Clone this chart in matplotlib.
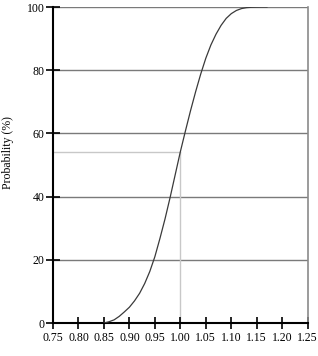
import matplotlib
matplotlib.use("Agg")
import matplotlib.pyplot as plt

# Curve (x, cumulative probability %)
x_vals = [0.85, 0.86, 0.87, 0.88, 0.89, 0.90, 0.91, 0.92, 0.93, 0.94, 0.95,
          0.96, 0.97, 0.98, 0.99, 1.00, 1.01, 1.02, 1.03, 1.04, 1.05, 1.06,
          1.07, 1.08, 1.09, 1.10, 1.11, 1.12, 1.13, 1.14, 1.15, 1.16, 1.17]
prob_vals = [0.0, 0.4, 1.0, 2.1, 3.5, 5.0, 7.0, 9.4, 12.5, 16.3, 21.0,
             26.8, 33.0, 39.8, 47.0, 54.2, 60.8, 67.2, 73.2, 78.8, 83.8, 88.0,
             91.4, 94.2, 96.4, 97.9, 98.9, 99.5, 99.8, 99.92, 99.97, 100.0, 100.0]

ref_x = 1.00
ref_y = 54.2

x_ticks = [0.75, 0.80, 0.85, 0.90, 0.95, 1.00, 1.05, 1.10, 1.15, 1.20, 1.25]
y_ticks = [0, 20, 40, 60, 80, 100]

plt.rcParams['font.family'] = ['Liberation Serif', 'DejaVu Serif']

fig = plt.figure(figsize=(3.18, 3.56), dpi=100)
ax = fig.add_axes([53/318, 1 - 323/356, (307.7-53)/318, (323-7)/356])

for yt in y_ticks[1:]:
    ax.axhline(yt, color='#7a7a7a', lw=1.0, zorder=1)

ax.plot([x_ticks[0], ref_x], [ref_y, ref_y], color='#c8c8c8', lw=1.0, zorder=1)
ax.plot([ref_x, ref_x], [0, ref_y], color='#c8c8c8', lw=1.0, zorder=1)

ax.plot(x_vals, prob_vals, color='#3a3a3a', lw=0.9, zorder=3)

ax.set_xlim(0.75, 1.25)
ax.set_ylim(0, 100)
ax.set_xticks(x_ticks)
ax.set_xticklabels([f"{v:.2f}" for v in x_ticks])
ax.set_yticks(y_ticks)
ax.set_yticklabels([str(v) for v in y_ticks])

ax.spines['top'].set_visible(False)
ax.spines['right'].set_color('#8a8a8a')
ax.spines['right'].set_linewidth(1.2)
ax.spines['left'].set_linewidth(1.5)
ax.spines['bottom'].set_linewidth(1.5)

ax.tick_params(axis='x', direction='inout', length=8.4, width=1.2, pad=2, labelsize=8.5)
ax.tick_params(axis='y', direction='inout', length=10, width=1.2, pad=1, labelsize=8.5)

ax.set_ylabel('Probability (%)', fontsize=8.5)
ax.yaxis.set_label_coords(-(53 - 14) / (307.7 - 53), (323 - 153) / 316)

fig.savefig('out.png', dpi=100)
